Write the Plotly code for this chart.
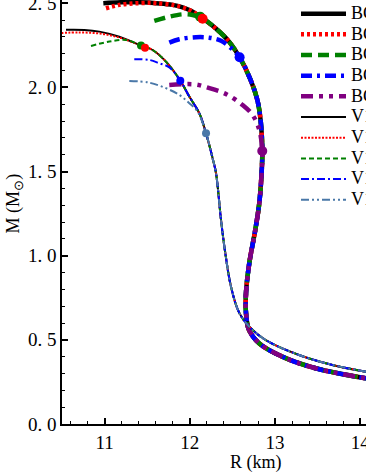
import plotly.graph_objects as go

# ---------------- data (R in km, M in solar masses) ----------------
# BC family (thick lines)
bc_names = ["BC1", "BC2", "BC3", "BC4", "BC5"]
bc_colors = ["black", "red", "green", "blue", "purple"]
bc_black_head_R = [10.985, 11.211, 11.407]
bc_black_head_M = [2.500, 2.506, 2.505]
bc_red_head_R = [11.016, 11.172, 11.350, 11.524]
bc_red_head_M = [2.470, 2.490, 2.499, 2.502]
bc_arc_R = [11.603, 11.798, 11.994]
bc_arc_M = [2.500, 2.490, 2.460]
bc_green_head_R = [11.583, 11.759, 11.915, 12.032]
bc_green_head_M = [2.395, 2.420, 2.434, 2.430]
bc_blue_head_R = [11.759, 11.876, 12.072, 12.228, 12.366, 12.463]
bc_blue_head_M = [2.266, 2.286, 2.298, 2.295, 2.277, 2.242]
bc_purple_head_R = [11.759, 12.052, 12.212, 12.428, 12.619, 12.736, 12.815]
bc_purple_head_M = [2.014, 2.018, 1.998, 1.959, 1.895, 1.836, 1.747]
bc_tail_R = [12.146, 12.302, 12.460, 12.584, 12.713, 12.792, 12.830, 12.850, 12.842,
             12.815, 12.768, 12.698, 12.659, 12.659, 12.694, 12.812, 13.085, 13.476, 14.070]
bc_tail_M = [2.411, 2.351, 2.272, 2.179, 2.044, 1.925, 1.806, 1.622, 1.491,
             1.313, 1.153, 0.957, 0.778, 0.660, 0.559, 0.480, 0.400, 0.331, 0.271]
bc_marker_R = [12.120, 12.150, 12.584, 12.850]
bc_marker_M = [2.420, 2.408, 2.179, 1.622]
bc_marker_colors = ["green", "red", "blue", "purple"]

# V1 family (thin lines)
v1_names = ["V1a", "V1b", "V1c", "V1d", "V1e"]
v1_colors = ["black", "red", "green", "blue", "#4a78a8"]
v1_black_head_R = [10.547, 10.762, 10.938, 11.172]
v1_black_head_M = [2.342, 2.341, 2.331, 2.301]
v1_red_head_R = [10.490, 10.703, 10.938, 11.172]
v1_red_head_M = [2.323, 2.326, 2.320, 2.296]
v1_green_head_R = [10.840, 11.055, 11.251]
v1_green_head_M = [2.246, 2.272, 2.282]
v1_blue_head_R = [11.348, 11.524, 11.642, 11.759]
v1_blue_head_M = [2.167, 2.163, 2.143, 2.119]
v1_steel_head_R = [11.290, 11.524, 11.720, 11.876, 11.994, 12.091]
v1_steel_head_M = [2.038, 2.028, 1.995, 1.955, 1.906, 1.856]
v1_tail_R = [11.427, 11.563, 11.720, 11.888, 11.994, 12.111, 12.190, 12.267, 12.307,
             12.366, 12.416, 12.483, 12.580, 12.698, 12.889, 13.281, 13.672, 14.070]
v1_tail_M = [2.248, 2.222, 2.153, 2.040, 1.945, 1.846, 1.727, 1.579, 1.491,
             1.212, 1.016, 0.816, 0.660, 0.578, 0.499, 0.410, 0.351, 0.310]
v1_marker_R = [11.427, 11.474, 11.888, 12.190]
v1_marker_M = [2.248, 2.236, 2.040, 1.727]
v1_marker_colors = ["green", "red", "blue", "#4a78a8"]

y_tickvals = [0.0, 0.5, 1.0, 1.5, 2.0, 2.5]
y_ticktext = ["0. 0", "0. 5", "1. 0", "1. 5", "2. 0", "2. 5"]
x_tickvals = [11, 12, 13, 14]
x_ticktext = ["11", "12", "13", "14"]

# ---------------- build series ----------------
bc_series = [
    (bc_black_head_R + bc_arc_R + bc_tail_R, bc_black_head_M + bc_arc_M + bc_tail_M),
    (bc_red_head_R + bc_arc_R + bc_tail_R, bc_red_head_M + bc_arc_M + bc_tail_M),
    (bc_green_head_R + bc_tail_R, bc_green_head_M + bc_tail_M),
    (bc_blue_head_R + bc_tail_R[3:], bc_blue_head_M + bc_tail_M[3:]),
    (bc_purple_head_R + bc_tail_R[7:], bc_purple_head_M + bc_tail_M[7:]),
]
v1_series = [
    (v1_black_head_R + v1_tail_R, v1_black_head_M + v1_tail_M),
    (v1_red_head_R + v1_tail_R, v1_red_head_M + v1_tail_M),
    (v1_green_head_R + v1_tail_R, v1_green_head_M + v1_tail_M),
    (v1_blue_head_R + v1_tail_R[3:], v1_blue_head_M + v1_tail_M[3:]),
    (v1_steel_head_R + v1_tail_R[6:], v1_steel_head_M + v1_tail_M[6:]),
]
bc_dash = ["solid", "3px,3px", "11px,6px", "11px,5px,3px,5px", "12px,6px,4px,6px,4px,6px"]
v1_dash = ["solid", "2px,1.5px", "5px,3px", "8px,3px,2px,3px", "8px,3px,2px,3px,2px,3px"]

FONT = "Liberation Serif"
fig = go.Figure()

def label(t):
    return "<span style='font-size:18px'>" + t + "</span>"

for (R, M), name, col, dash in zip(bc_series, bc_names, bc_colors, bc_dash):
    fig.add_trace(go.Scatter(x=R, y=M, mode="lines", name=label(name),
                             line=dict(color=col, width=4.5, dash=dash, shape="spline")))
for (R, M), name, col, dash in zip(v1_series, v1_names, v1_colors, v1_dash):
    fig.add_trace(go.Scatter(x=R, y=M, mode="lines", name=label(name),
                             line=dict(color=col, width=2, dash=dash, shape="spline")))

for r, m, c in zip(bc_marker_R, bc_marker_M, bc_marker_colors):
    fig.add_trace(go.Scatter(x=[r], y=[m], mode="markers", showlegend=False,
                             marker=dict(color=c, size=10)))
for r, m, c in zip(v1_marker_R, v1_marker_M, v1_marker_colors):
    fig.add_trace(go.Scatter(x=[r], y=[m], mode="markers", showlegend=False,
                             marker=dict(color=c, size=8)))

axis_common = dict(showline=True, linecolor="black", linewidth=1.5, ticks="inside",
                   tickcolor="black", tickwidth=1.5, ticklen=6, showgrid=False,
                   zeroline=False, automargin=False, ticklabeloverflow="allow",
                   tickfont=dict(family=FONT, size=19, color="black"))

fig.update_layout(
    width=366, height=473,
    margin=dict(l=62, r=0, t=0, b=49, autoexpand=False),
    paper_bgcolor="white", plot_bgcolor="white",
    template="none",
    xaxis=dict(range=[10.5, 14.067], tickvals=x_tickvals, ticktext=x_ticktext,
               minor=dict(ticks="inside", dtick=0.2, tick0=10, ticklen=3.5,
                          tickcolor="black", tickwidth=1.2),
               **axis_common),
    yaxis=dict(range=[0, 2.519], tickvals=y_tickvals, ticktext=y_ticktext,
               minor=dict(ticks="inside", dtick=0.1, tick0=0, ticklen=3.5,
                          tickcolor="black", tickwidth=1.2),
               **axis_common),
    legend=dict(x=(296 - 62) / 304, y=1.004, xanchor="left", yanchor="top",
                bgcolor="rgba(0,0,0,0)", font=dict(family=FONT, size=13.6, color="black"),
                itemwidth=45),
    showlegend=True,
    annotations=[
        dict(text="R (km)", xref="paper", yref="paper", x=(255.5 - 62) / 304, y=-0.09,
             xanchor="center", yanchor="middle", showarrow=False,
             font=dict(family=FONT, size=18, color="black")),
        dict(text="M (M<sub>⊙</sub>)", xref="paper", yref="paper", x=-0.155,
             y=(424 - 203.5) / 424, xanchor="center", yanchor="middle", textangle=-90,
             showarrow=False, font=dict(family=FONT, size=18, color="black")),
    ],
)

fig.write_html("out.html", config={"displayModeBar": False},
               post_script="document.body.style.margin='0px';")
